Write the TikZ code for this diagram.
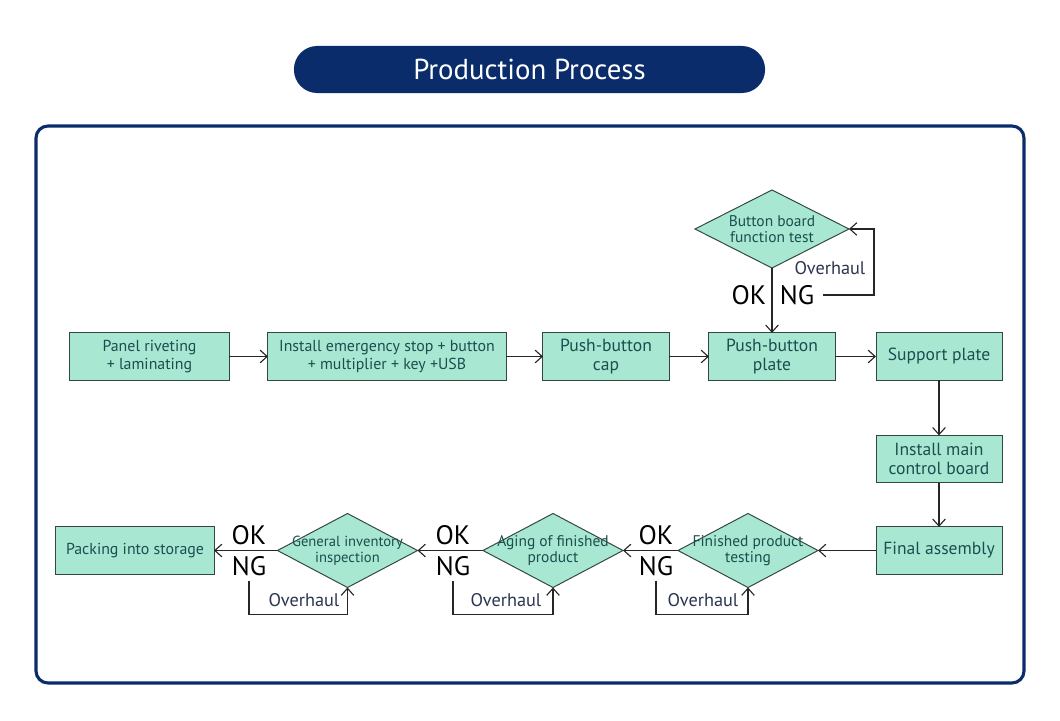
\documentclass[tikz,border=0pt]{standalone}
\usepackage{fontspec}
\setmainfont{PT Sans}
\usepackage{tikz}
\usetikzlibrary{arrows.meta,shapes.geometric}
\definecolor{navy}{HTML}{0A2C6A}
\definecolor{mint}{HTML}{A8E8D3}
\definecolor{boxline}{HTML}{34473F}
\definecolor{boxtext}{HTML}{1E4D4F}
\definecolor{loopcol}{HTML}{2B3550}
\tikzset{
  box/.style={draw=boxline,fill=mint,line width=0.7pt,minimum height=1.18cm,inner sep=0pt,outer sep=0pt,
    align=center,text=boxtext,font=\fontsize{12.5}{13}\selectfont},
  longbox/.style={box,font=\fontsize{11.3}{12.5}\selectfont},
  decision/.style={draw=boxline,fill=mint,line width=0.7pt,diamond,inner sep=0pt,outer sep=0pt,
    minimum width=3.5cm,minimum height=1.85cm},
  dtext/.style={align=center,text=boxtext,font=\fontsize{11}{11.5}\selectfont,inner sep=0pt},
  oklabel/.style={font=\fontsize{19}{19}\selectfont,text=black},
  overhaul/.style={font=\fontsize{13}{13}\selectfont,text=loopcol},
  arr/.style={-{Straight Barb[length=5pt,width=9pt]},line width=0.8pt,draw=black!85}
}
\begin{document}
\begin{tikzpicture}[x=0.025cm,y=-0.025cm]
\useasboundingbox (0,0) rectangle (1060,721);

% title and frame
\node[fill=navy,rounded corners=0.58cm,minimum width=11.775cm,minimum height=1.175cm,
  text=white,font=\fontsize{20.5}{20.5}\selectfont](title)at(529.5,69.5){Production Process};
\draw[navy,line width=2.2pt,rounded corners=0.3cm](36,126)rectangle(1024,683);

% top row
\node[longbox,minimum width=3.975cm](panel)at(149.5,356.5){Panel riveting\\+ laminating};
\node[longbox,minimum width=5.95cm](install)at(387,356.5){Install emergency stop + button\\+ multiplier + key +USB};
\node[box,minimum width=3.15cm](cap)at(606,356.5){Push-button\\cap};
\node[box,minimum width=3.15cm](plate)at(772,356.5){Push-button\\plate};
\node[box,minimum width=3.15cm](support)at(939,356.5){Support plate};
\node[decision,minimum width=3.85cm,minimum height=1.95cm,
  label={[dtext]center:Button board\\function test}](btest)at(772,229){};

% right column
\node[box,minimum width=3.15cm](control)at(939,459){Install main\\control board};
\node[box,minimum width=3.15cm](final)at(939,550.5){Final assembly};

% bottom row
\node[decision,label={[dtext]center:Finished product\\testing}](ftest)at(748,550.5){};
\node[decision,label={[dtext]center:Aging of finished\\product}](aging)at(553,550.5){};
\node[decision,label={[dtext,font=\fontsize{10.4}{11.5}\selectfont]center:General inventory\\inspection}](ginsp)at(347.5,550.5){};
\node[longbox,minimum width=3.95cm](packing)at(135,550.5){Packing into storage};

% OK / NG labels
\node[oklabel](ok1)at(749,295){OK};
\node[oklabel](ng1)at(797,295){NG};
\node[oklabel](ok2)at(656,535){OK};
\node[oklabel](ng2)at(656,566){NG};
\node[oklabel](ok3)at(453,535){OK};
\node[oklabel](ng3)at(453,566){NG};
\node[oklabel](ok4)at(249,535){OK};
\node[oklabel](ng4)at(249,566){NG};
\node[overhaul](oh1)at(830,268){Overhaul};
\node[overhaul](oh2)at(703,600){Overhaul};
\node[overhaul](oh3)at(506,600){Overhaul};
\node[overhaul](oh4)at(304,600){Overhaul};

% flow
\draw[arr](panel)--(install);
\draw[arr](install)--(cap);
\draw[arr](cap)--(plate);
\draw[arr](plate)--(support);
\draw[arr](btest)--(plate);
\draw[arr](support)--(control);
\draw[arr](control)--(final);
\draw[arr](final)--(ftest);
\draw[arr](ftest)--(aging);
\draw[arr](aging)--(ginsp);
\draw[arr](ginsp)--(packing);

% overhaul loops
\draw[arr]([xshift=0.1cm]ng1.east)-|(874,229)--(btest.east);
\draw[arr](ng2.south)--++(0,34)-|(ftest.south);
\draw[arr](ng3.south)--++(0,34)-|(aging.south);
\draw[arr](ng4.south)--++(0,34)-|(ginsp.south);

\end{tikzpicture}
\end{document}
